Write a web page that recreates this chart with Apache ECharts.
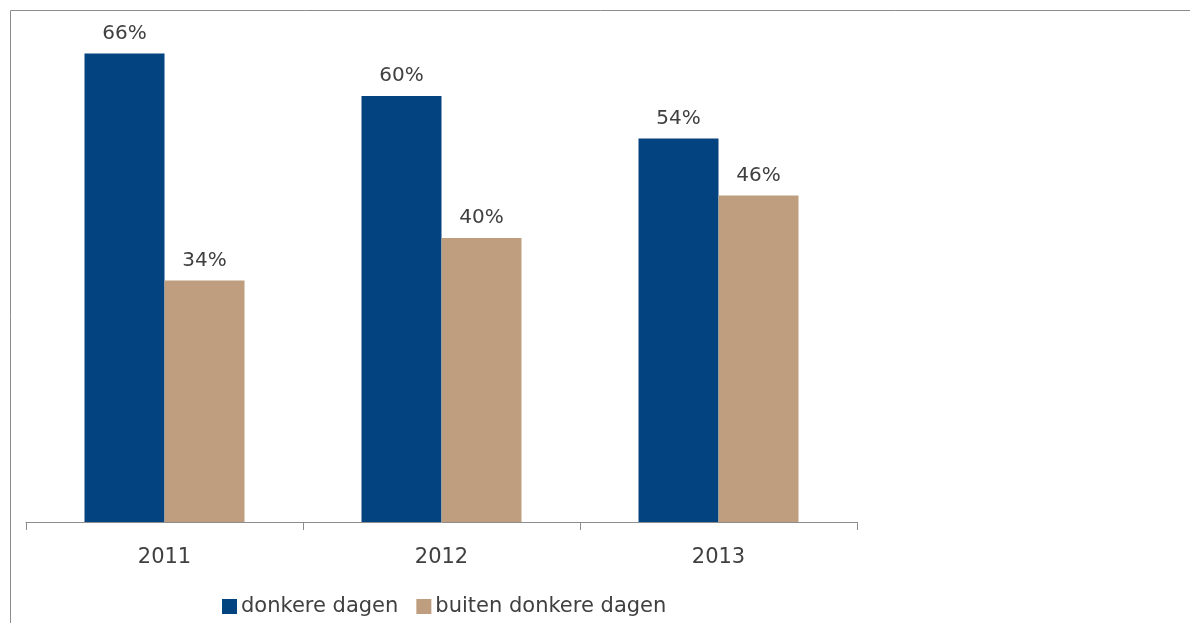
<!DOCTYPE html>
<html>
<head>
<meta charset="utf-8">
<script src="https://cdn.jsdelivr.net/npm/echarts@6/dist/echarts.min.js"></script>
<style>
html,body{margin:0;padding:0;background:#fff;}
#chart{width:1190px;height:623px;}
</style>
</head>
<body>
<div id="chart"></div>
<script>
const categories = ['2011', '2012', '2013'];
const seriesNames = ['donkere dagen', 'buiten donkere dagen'];
const donkereDagen = [66, 60, 54];
const buitenDonkereDagen = [34, 40, 46];

const chart = echarts.init(document.getElementById('chart'));
const font = 'DejaVu Sans';
chart.setOption({
  animation: false,
  backgroundColor: '#fff',
  graphic: [
    { type: 'line', shape: { x1: 10.5, y1: 10.5, x2: 1190, y2: 10.5 }, style: { stroke: '#8c8c8c', lineWidth: 1 } },
    { type: 'line', shape: { x1: 10.5, y1: 10.5, x2: 10.5, y2: 623 }, style: { stroke: '#8c8c8c', lineWidth: 1 } }
  ],
  grid: { left: 26, right: 333, top: 25, bottom: 101 },
  legend: {
    left: 222, bottom: 6, padding: 0,
    itemWidth: 15, itemHeight: 15, itemGap: 18,
    icon: 'rect',
    textStyle: { fontFamily: font, fontSize: 21, color: '#404040', padding: [0, 0, 0, -1] },
    data: seriesNames
  },
  xAxis: {
    type: 'category',
    data: categories,
    axisLine: { lineStyle: { color: '#8c8c8c' } },
    axisTick: { show: true, length: 8, lineStyle: { color: '#8c8c8c' } },
    axisLabel: { fontFamily: font, fontSize: 21, color: '#404040', margin: 25 }
  },
  yAxis: {
    type: 'value', min: 0, max: 70,
    show: false,
    splitLine: { show: false }
  },
  series: [
    {
      name: seriesNames[0], type: 'bar', data: donkereDagen,
      barWidth: 80, barGap: '0%',
      itemStyle: { color: '#03437F' },
      label: { show: true, position: 'top', distance: 10, formatter: '{c}%', fontFamily: font, fontSize: 20, color: '#404040' }
    },
    {
      name: seriesNames[1], type: 'bar', data: buitenDonkereDagen,
      barWidth: 80, barGap: '0%',
      itemStyle: { color: '#BE9E7F' },
      label: { show: true, position: 'top', distance: 10, formatter: '{c}%', fontFamily: font, fontSize: 20, color: '#404040' }
    }
  ]
});
</script>
</body>
</html>
